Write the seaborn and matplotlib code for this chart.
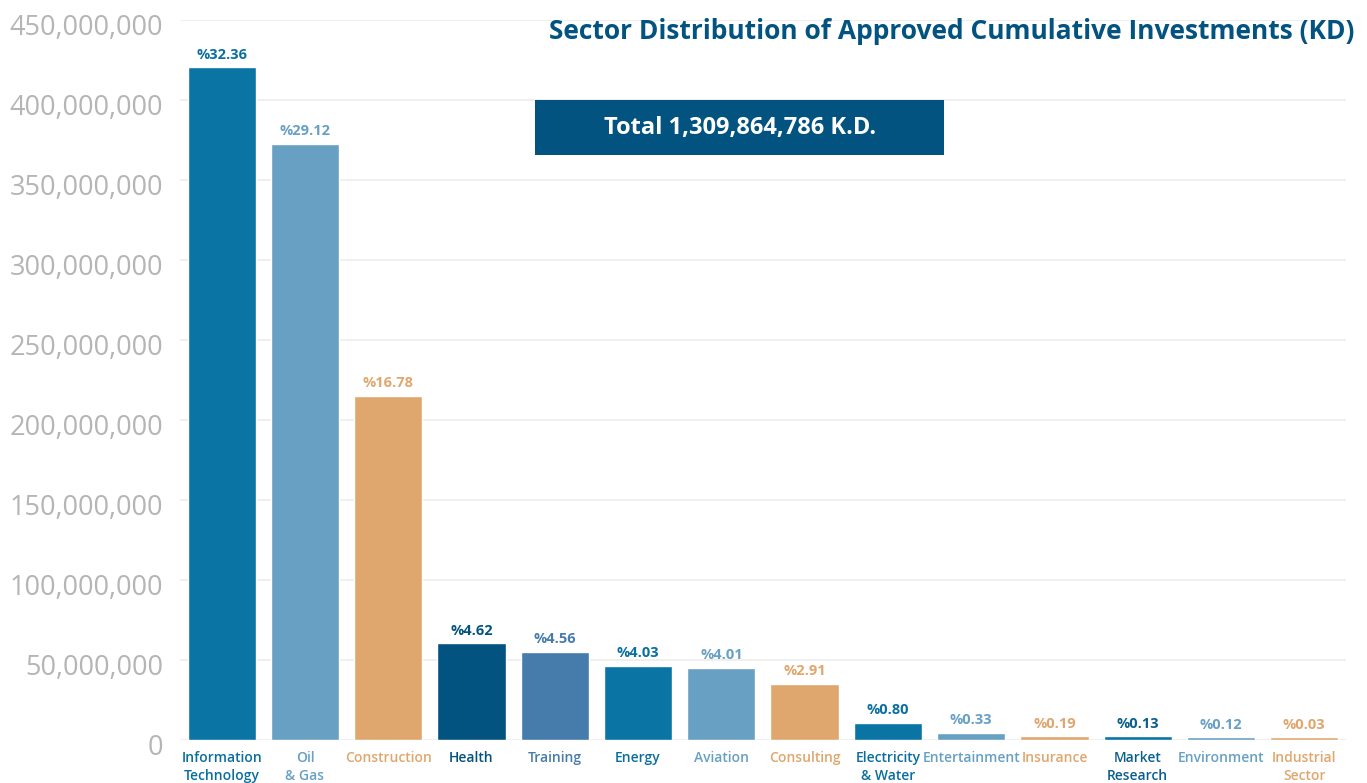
import pandas as pd
import matplotlib.pyplot as plt
import matplotlib.transforms as mtransforms
import seaborn as sns
from matplotlib.patches import Rectangle
from matplotlib.ticker import FuncFormatter

# Sectors, values (KD) and shares
sectors = ['Information\nTechnology', 'Oil\n& Gas', 'Construction', 'Health', 'Training',
           'Energy', 'Aviation', 'Consulting', 'Electricity\n& Water', 'Entertainment',
           'Insurance', 'Market\nResearch', 'Environment', 'Industrial\nSector']
values = [420600000, 372500000, 215000000, 60600000, 55000000, 46250000, 45000000,
          35000000, 10600000, 4400000, 2200000, 2200000, 1700000, 1700000]
shares = ['32.36', '29.12', '16.78', '4.62', '4.56', '4.03', '4.01', '2.91',
          '0.80', '0.33', '0.19', '0.13', '0.12', '0.03']

bar_colors = ['#0a74a5', '#68a0c4', '#dfa76d', '#02537f', '#467cab', '#0a74a5', '#68a0c4',
              '#dfa76d', '#0a74a5', '#68a0c4', '#dfa76d', '#0a74a5', '#68a0c4', '#dfa76d']
label_colors = ['#0a6f9f', '#68a0c4', '#dfa76d', '#02537f', '#467cab', '#0a6f9f', '#68a0c4',
                '#dfa76d', '#0a6f9f', '#68a0c4', '#dfa76d', '#0b5f8f', '#68a0c4', '#dfa76d']

df = pd.DataFrame({'sector': sectors, 'value': values})

sns.set_style('white')
plt.rcParams['font.family'] = ['Open Sans', 'DejaVu Sans']

fig = plt.figure(figsize=(13.67, 7.83), dpi=100)
ax = fig.add_axes([0.1317, 0.0549, 0.8529, 0.9195])

sns.barplot(data=df, x='sector', y='value', hue='sector', palette=bar_colors,
            legend=False, width=0.82, saturation=1, ax=ax)

ax.set_ylim(0, 450000000)
ax.set_xlim(-0.5, len(sectors) - 0.5)
ax.set_yticks(range(0, 450000001, 50000000))
ax.yaxis.set_major_formatter(FuncFormatter(lambda v, p: f'{int(v):,}'))
ax.grid(axis='y', color='#ececec', linewidth=1.2)
ax.set_axisbelow(True)
for s in ax.spines.values():
    s.set_visible(False)
ax.set_xlabel('')
ax.set_ylabel('')
ax.tick_params(axis='y', length=0, pad=12, labelsize=19.5, labelcolor='#b5b5b5')
ax.tick_params(axis='x', length=0, pad=8)

# y labels sit a few pixels below their grid lines in the reference
shift = mtransforms.ScaledTranslation(0, -4 / 100, fig.dpi_scale_trans)
for lbl in ax.get_yticklabels():
    lbl.set_transform(lbl.get_transform() + shift)

for lbl, c in zip(ax.get_xticklabels(), label_colors):
    lbl.set_color(c)
    lbl.set_fontsize(10)
    lbl.set_fontweight('semibold')
    lbl.set_va('top')
    lbl.set_linespacing(1.35)

# percentage labels above bars
for i, (v, s) in enumerate(zip(values, shares)):
    ax.annotate('%' + s, (i, v), xytext=(0, 4), textcoords='offset points',
                ha='center', va='bottom', fontsize=10.5, fontweight='bold',
                color=label_colors[i])

fig.text(0.991, 0.96, 'Sector Distribution of Approved Cumulative Investments (KD)',
         ha='right', va='center', fontsize=19, fontweight='bold', color='#02537f')

fig.patches.append(Rectangle((535 / 1367, 1 - 155 / 783), 409 / 1367, 55 / 783,
                             transform=fig.transFigure, facecolor='#02537f',
                             edgecolor='none', zorder=1))
fig.text(0.5415, 0.837, 'Total 1,309,864,786 K.D.', ha='center', va='center',
         fontsize=17, fontweight='bold', color='white', zorder=2)

fig.savefig('out.png', dpi=100)
